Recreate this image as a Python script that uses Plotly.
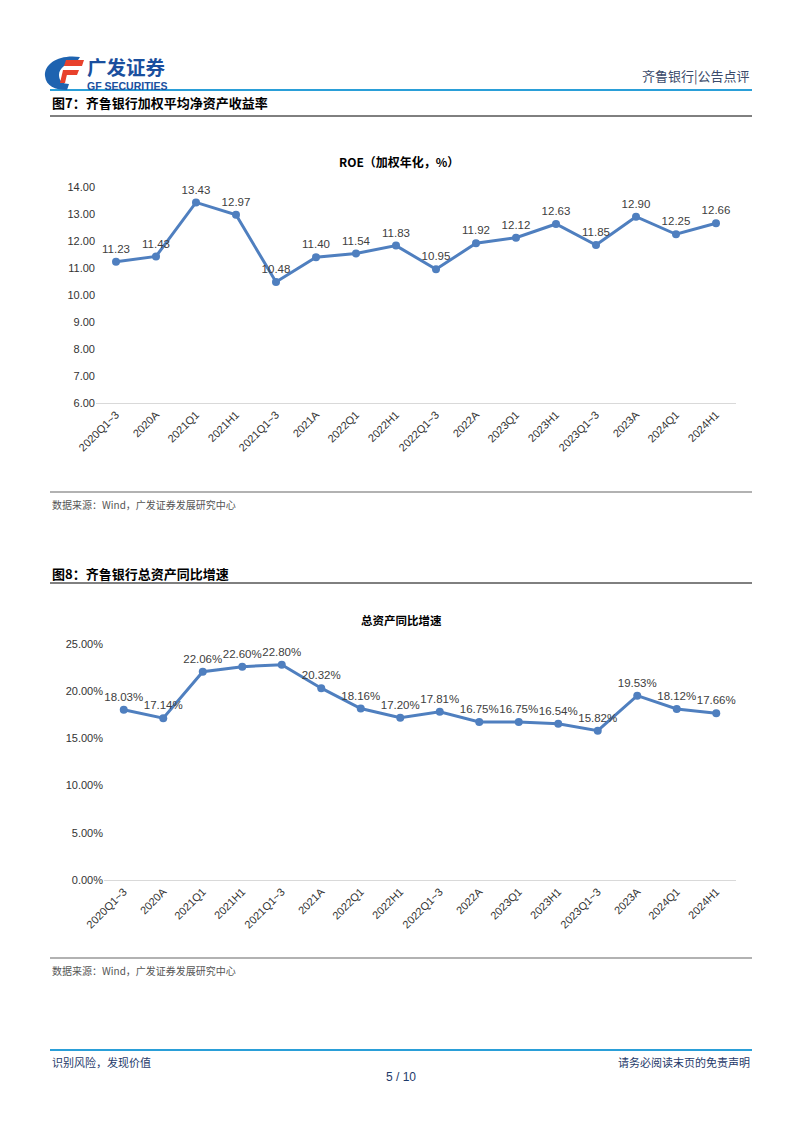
import plotly.graph_objects as go

W, H = 794, 1125   # page body adds an 8px margin; coordinates below are page pixels
OFF = 8

categories = ["2020Q1~3", "2020A", "2021Q1", "2021H1", "2021Q1~3", "2021A", "2022Q1", "2022H1",
              "2022Q1~3", "2022A", "2023Q1", "2023H1", "2023Q1~3", "2023A", "2024Q1", "2024H1"]
roe = [11.23, 11.43, 13.43, 12.97, 10.48, 11.40, 11.54, 11.83, 10.95, 11.92, 12.12, 12.63, 11.85, 12.90, 12.25, 12.66]
asset_growth = [18.03, 17.14, 22.06, 22.60, 22.80, 20.32, 18.16, 17.20, 17.81, 16.75, 16.75, 16.54, 15.82, 19.53, 18.12, 17.66]
roe_ticks = [6, 7, 8, 9, 10, 11, 12, 13, 14]
growth_ticks = [0, 5, 10, 15, 20, 25]

LINE = "#4f7fbf"
FONT = "Liberation Sans, Arial, sans-serif"
CJK = "Noto Sans CJK SC"


def px(x):
    return (x - OFF) / W


def py(y):
    return 1 - (y - OFF) / H


fig = go.Figure()

fig.add_trace(go.Scatter(
    x=categories, y=roe, mode="lines+markers+text",
    text=[f"{v:.2f}" for v in roe], textposition="top center",
    textfont=dict(size=11.5, color="#404040", family=FONT),
    line=dict(color=LINE, width=3), marker=dict(size=8, color=LINE),
    xaxis="x", yaxis="y", cliponaxis=False, showlegend=False))

fig.add_trace(go.Scatter(
    x=categories, y=asset_growth, mode="lines+markers+text",
    text=[f"{v:.2f}%" for v in asset_growth], textposition="top center",
    textfont=dict(size=11.5, color="#404040", family=FONT),
    line=dict(color=LINE, width=3), marker=dict(size=8, color=LINE),
    xaxis="x2", yaxis="y2", cliponaxis=False, showlegend=False))

axis_common = dict(showgrid=False, zeroline=False, ticks="", automargin=False,
                   tickfont=dict(size=11, color="#333", family=FONT))
n = len(categories)

fig.update_layout(
    width=W, height=H, margin=dict(l=0, r=0, t=0, b=0, autoexpand=False),
    paper_bgcolor="white", plot_bgcolor="white",
    xaxis=dict(domain=[px(96), px(736)], anchor="y", type="category", tickangle=-45,
               range=[-0.5, n - 0.5], showline=True, linecolor="#d9d9d9", linewidth=1, **axis_common),
    yaxis=dict(domain=[py(403), py(187)], anchor="x", range=[6, 14], tickvals=roe_ticks,
               ticktext=[f"{v:.2f}" for v in roe_ticks], showline=False, **axis_common),
    xaxis2=dict(domain=[px(104), px(736)], anchor="y2", type="category", tickangle=-45,
                range=[-0.5, n - 0.5], showline=True, linecolor="#d9d9d9", linewidth=1, **axis_common),
    yaxis2=dict(domain=[py(880), py(644)], anchor="x2", range=[0, 25], tickvals=growth_ticks,
                ticktext=[f"{v:.2f}%" for v in growth_ticks], showline=False, **axis_common),
)

shapes = []
annotations = []


def hline(y, x0, x1, color, width):
    shapes.append(dict(type="line", xref="paper", yref="paper", x0=px(x0), x1=px(x1), y0=py(y), y1=py(y),
                       line=dict(color=color, width=width)))


def poly(cmds, color):
    parts = []
    for c in cmds:
        if isinstance(c, str):
            parts.append(c)
        else:
            parts.append(f"{px(c[0]):.5f},{py(c[1]):.5f}")
    shapes.append(dict(type="path", xref="paper", yref="paper", path=" ".join(parts),
                       fillcolor=color, line=dict(width=0)))


def text(x, y, s, size, color="#000", bold=False, xanchor="left", family=CJK):
    annotations.append(dict(xref="paper", yref="paper", x=px(x), y=py(y), text=f"<b>{s}</b>" if bold else s,
                            showarrow=False, xanchor=xanchor, yanchor="middle",
                            font=dict(size=size, color=color, family=family)))


# header
hline(90, 50, 752, "#2a9fd8", 2)
text(752, 76, "齐鲁银行|公告点评", 13, "#3a4a6a", xanchor="right")
# logo: blue crescent "G" + red "F"
poly(["M", (80, 57), "C", (60, 54), (44, 63), (45, 76), "C", (46, 86), (55, 90), (67, 90),
      "L", (69, 84), "C", (63, 84), (59, 81), (59, 75), "C", (59, 68), (66, 63), (76, 63), "Z"], "#1e63b0")
poly(["M", (66, 60), "L", (84, 60), "L", (82, 66), "L", (64, 66), "Z"], "#e8412c")
poly(["M", (65, 70), "L", (79, 70), "L", (77, 75), "L", (63, 75), "Z"], "#e8412c")
poly(["M", (63, 70), "L", (68, 70), "L", (65, 83), "L", (60, 83), "Z"], "#e8412c")
text(85, 67, "广发证券", 19.5, "#1a4f9e", bold=True)
text(85, 86.5, "GF SECURITIES", 10.5, "#1a4f9e", bold=True, family=FONT)

# figure 7
text(50, 103, "图7：齐鲁银行加权平均净资产收益率", 13, "#000", bold=True)
hline(116, 50, 752, "#000", 1)
text(399, 162, "ROE（加权年化，%）", 12, "#000", bold=True, xanchor="center")
hline(492, 50, 752, "#999", 1.5)
text(50, 504, "数据来源：Wind，广发证券发展研究中心", 10, "#555")

# figure 8
text(50, 573, "图8：齐鲁银行总资产同比增速", 13, "#000", bold=True)
hline(583, 50, 752, "#000", 1)
text(401, 620, "总资产同比增速", 11.5, "#000", bold=True, xanchor="center")
hline(958, 50, 752, "#999", 1.5)
text(50, 970, "数据来源：Wind，广发证券发展研究中心", 10, "#555")

# footer
hline(1050, 50, 752, "#2a9fd8", 2)
text(50, 1062, "识别风险，发现价值", 11, "#1e3a6a")
text(752, 1062, "请务必阅读末页的免责声明", 11, "#1e3a6a", xanchor="right")
text(401, 1077, "5 / 10", 12, "#1e3a6a", xanchor="center", family=FONT)

fig.update_layout(shapes=shapes, annotations=annotations)
fig.write_html("out.html")
